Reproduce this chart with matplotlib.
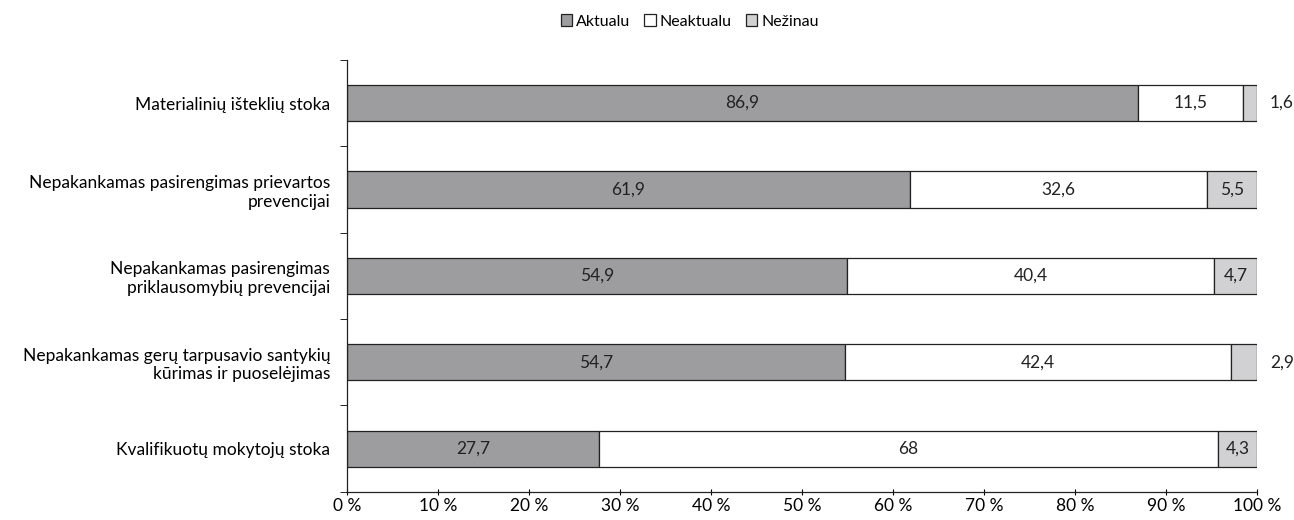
import matplotlib.pyplot as plt
import numpy as np

plt.rcParams["font.family"] = ["Lato", "DejaVu Sans"]
plt.rcParams["font.size"] = 12.5

categories = [
    "Materialinių išteklių stoka",
    "Nepakankamas pasirengimas prievartos\nprevencijai",
    "Nepakankamas pasirengimas\npriklausomybių prevencijai",
    "Nepakankamas gerų tarpusavio santykių\nkūrimas ir puoselėjimas",
    "Kvalifikuotų mokytojų stoka",
]
aktualu = [86.9, 61.9, 54.9, 54.7, 27.7]
neaktualu = [11.5, 32.6, 40.4, 42.4, 68]
nezinau = [1.6, 5.5, 4.7, 2.9, 4.3]
series_names = ["Aktualu", "Neaktualu", "Nežinau"]
xticks = np.arange(0, 101, 10)

COLORS = ["#9d9d9f", "#ffffff", "#d1d1d3"]


def fmt(v):
    s = ("%g" % v).replace(".", ",")
    return s


fig = plt.figure(figsize=(12.94, 5.2), dpi=100)
ax = fig.add_axes([0.268, 0.054, 0.7035, 0.831])

y = np.arange(len(categories))
height = 0.42
left = np.zeros(len(categories))
for name, vals, col in zip(series_names, [aktualu, neaktualu, nezinau], COLORS):
    vals = np.array(vals)
    ax.barh(y, vals, height, left=left, color=col, edgecolor="#222222",
            linewidth=0.9, label=name)
    for i, v in enumerate(vals):
        if v < 3:
            ax.text(101.4, y[i], fmt(v), va="center", ha="left",
                    color="#222222")
        else:
            ax.text(left[i] + v / 2, y[i], fmt(v), va="center", ha="center",
                    color="#222222")
    left = left + vals

ax.set_xlim(0, 100)
ax.set_ylim(len(categories) - 0.5, -0.5)
ax.set_xticks(xticks)
ax.set_xticklabels(["%d %%" % t for t in xticks])
ax.set_yticks(y)
ax.set_yticklabels(categories, linespacing=1.2)
ax.set_yticks(np.arange(-0.5, len(categories), 1), minor=True)
ax.tick_params(axis="y", which="major", length=0, pad=12)
ax.tick_params(axis="y", which="minor", length=5, direction="out")
ax.tick_params(axis="x", length=5, direction="inout", pad=2)
for sp in ["top", "right"]:
    ax.spines[sp].set_visible(False)
for sp in ["left", "bottom"]:
    ax.spines[sp].set_color("#222222")
    ax.spines[sp].set_linewidth(0.9)

fig.legend(loc="upper center", bbox_to_anchor=(0.533, 1.0), ncols=3,
           frameon=False, handlelength=0.7, handleheight=0.7,
           handletextpad=0.25, columnspacing=0.9, fontsize=11.5)

fig.savefig("out.png", dpi=100)
